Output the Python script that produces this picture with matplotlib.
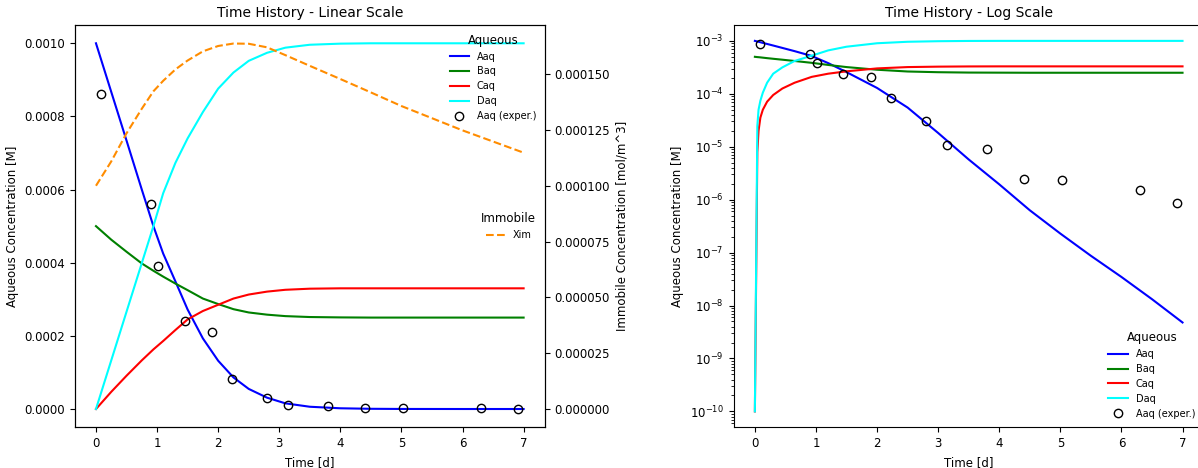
import matplotlib
matplotlib.use("Agg")
import matplotlib.pyplot as plt
from matplotlib.ticker import FormatStrFormatter, MultipleLocator, LogLocator, NullFormatter
import numpy as np

plt.rcParams['font.family'] = ['DejaVu Sans']

# ---------------- Linear-scale panel data ----------------
t_lin = [0, 0.25, 0.5, 0.75, 0.94, 1.1, 1.3, 1.5, 1.75, 2.0, 2.25, 2.5, 2.8, 3.1,
         3.5, 4.0, 4.5, 5.0, 6.0, 7.0]
aaq_lin = [1.0e-3, 8.67e-4, 7.34e-4, 6.0e-4, 5.0e-4, 4.25e-4, 3.49e-4, 2.72e-4, 1.93e-4,
           1.32e-4, 8.64e-5, 5.5e-5, 3.1e-5, 1.55e-5, 6.2e-6, 2.0e-6, 6.0e-7, 1.7e-7,
           1.5e-8, 4.5e-9]
baq_lin = [5.0e-4, 4.63e-4, 4.30e-4, 3.98e-4, 3.78e-4, 3.62e-4, 3.43e-4, 3.25e-4, 3.02e-4,
           2.87e-4, 2.73e-4, 2.64e-4, 2.58e-4, 2.54e-4, 2.515e-4, 2.505e-4, 2.5e-4, 2.5e-4,
           2.5e-4, 2.5e-4]
caq_lin = [0.0, 4.7e-5, 9.1e-5, 1.33e-4, 1.63e-4, 1.86e-4, 2.16e-4, 2.45e-4, 2.68e-4,
           2.85e-4, 3.02e-4, 3.13e-4, 3.21e-4, 3.26e-4, 3.29e-4, 3.30e-4, 3.30e-4, 3.30e-4,
           3.30e-4, 3.30e-4]
daq_lin = [0.0, 1.33e-4, 2.66e-4, 3.99e-4, 5.0e-4, 5.9e-4, 6.73e-4, 7.4e-4, 8.12e-4,
           8.76e-4, 9.2e-4, 9.52e-4, 9.74e-4, 9.88e-4, 9.96e-4, 9.99e-4, 1.0e-3, 1.0e-3,
           1.0e-3, 1.0e-3]
xim_lin = [1.0e-4, 1.109e-4, 1.235e-4, 1.345e-4, 1.423e-4, 1.470e-4, 1.521e-4, 1.561e-4,
           1.602e-4, 1.626e-4, 1.637e-4, 1.636e-4, 1.620e-4, 1.585e-4, 1.537e-4, 1.478e-4,
           1.418e-4, 1.357e-4, 1.248e-4, 1.148e-4]

# ---------------- Log-scale panel data ----------------
t_log = [0, 0.04, 0.06, 0.09, 0.13, 0.2, 0.3, 0.45, 0.65, 0.93, 1.2, 1.5, 2.0, 2.5,
         3.0, 3.5, 4.0, 4.5, 5.0, 5.5, 6.0, 6.5, 7.0]
aaq_log = [1.0e-3, 9.73e-4, 9.62e-4, 9.42e-4, 9.16e-4, 8.75e-4, 8.17e-4, 7.36e-4, 6.40e-4,
           5.19e-4, 3.80e-4, 2.57e-4, 1.29e-4, 5.50e-5, 1.82e-5, 5.75e-6, 1.95e-6, 6.31e-7,
           2.29e-7, 8.71e-8, 3.47e-8, 1.32e-8, 4.79e-9]
baq_log = [5.0e-4, 4.94e-4, 4.92e-4, 4.88e-4, 4.82e-4, 4.72e-4, 4.59e-4, 4.41e-4, 4.17e-4,
           3.85e-4, 3.51e-4, 3.20e-4, 2.85e-4, 2.64e-4, 2.56e-4, 2.52e-4, 2.51e-4, 2.5e-4,
           2.5e-4, 2.5e-4, 2.5e-4, 2.5e-4, 2.5e-4]
caq_log = [1.0e-10, 7.9e-6, 2.0e-5, 3.55e-5, 5.0e-5, 7.1e-5, 9.5e-5, 1.26e-4, 1.62e-4,
           2.09e-4, 2.40e-4, 2.66e-4, 3.02e-4, 3.20e-4, 3.26e-4, 3.29e-4, 3.30e-4, 3.30e-4,
           3.30e-4, 3.30e-4, 3.30e-4, 3.30e-4, 3.30e-4]
daq_log = [1.0e-10, 2.45e-5, 5.01e-5, 7.41e-5, 1.05e-4, 1.62e-4, 2.40e-4, 3.16e-4, 4.17e-4,
           5.25e-4, 6.61e-4, 7.76e-4, 9.02e-4, 9.62e-4, 9.86e-4, 9.97e-4, 1.0e-3, 1.0e-3,
           1.0e-3, 1.0e-3, 1.0e-3, 1.0e-3, 1.0e-3]

# ---------------- Experimental data ----------------
t_exp = [0.09, 0.9, 1.01, 1.45, 1.9, 2.23, 2.8, 3.14, 3.8, 4.41, 5.03, 6.31, 6.91]
aaq_exp = [8.6e-4, 5.6e-4, 3.9e-4, 2.4e-4, 2.1e-4, 8.3e-5, 3.1e-5, 1.1e-5, 8.9e-6,
           2.45e-6, 2.35e-6, 1.55e-6, 8.7e-7]

W, H = 1198, 468
fig = plt.figure(figsize=(W / 100, H / 100), dpi=100)

TICK_FS = 8.5
LABEL_FS = 8.5
TITLE_FS = 10
LEG_FS = 7
LEG_TITLE_FS = 8.5

ax1 = fig.add_axes([74.6 / W, (H - 427.3) / H, 470.4 / W, 402.3 / H])
ax2 = ax1.twinx()
ax3 = fig.add_axes([733.5 / W, (H - 427.3) / H, 470.4 / W, 402.3 / H])

lw = 1.5
ax1.plot(t_lin, aaq_lin, color='blue', lw=lw, label='Aaq')
ax1.plot(t_lin, baq_lin, color='green', lw=lw, label='Baq')
ax1.plot(t_lin, caq_lin, color='red', lw=lw, label='Caq')
ax1.plot(t_lin, daq_lin, color='cyan', lw=lw, label='Daq')
ax1.plot(t_exp, aaq_exp, 'o', mfc='none', mec='black', ms=6, mew=1.0, label='Aaq (exper.)')
ax2.plot(t_lin, xim_lin, color='darkorange', ls='--', lw=lw, label='Xim')

ax1.set_xlim(-0.35, 7.35)
ax1.set_ylim(-0.00005, 0.00105)
ax2.set_ylim(-8.2e-6, 1.72e-4)
ax1.yaxis.set_major_formatter(FormatStrFormatter('%.4f'))
ax2.yaxis.set_major_locator(MultipleLocator(0.000025))
ax2.yaxis.set_major_formatter(FormatStrFormatter('%.6f'))
ax1.set_xlabel('Time [d]', fontsize=LABEL_FS)
ax1.set_ylabel('Aqueous Concentration [M]', fontsize=LABEL_FS)
ax2.set_ylabel('Immobile Concentration [mol/m^3]', fontsize=LABEL_FS)
ax1.set_title('Time History - Linear Scale', fontsize=TITLE_FS)
for a in (ax1, ax2, ax3):
    a.tick_params(labelsize=TICK_FS)

leg1 = ax1.legend(loc='upper right', frameon=False, fontsize=LEG_FS, title='Aqueous',
                  title_fontsize=LEG_TITLE_FS)
ax2.legend(loc='center right', frameon=False, fontsize=LEG_FS, title='Immobile',
           title_fontsize=LEG_TITLE_FS)

ax3.plot(t_log, aaq_log, color='blue', lw=lw, label='Aaq')
ax3.plot(t_log, baq_log, color='green', lw=lw, label='Baq')
ax3.plot(t_log, caq_log, color='red', lw=lw, label='Caq')
ax3.plot(t_log, daq_log, color='cyan', lw=lw, label='Daq')
ax3.plot(t_exp, aaq_exp, 'o', mfc='none', mec='black', ms=6, mew=1.0, label='Aaq (exper.)')
ax3.set_yscale('log')
ax3.set_xlim(-0.35, 7.35)
ax3.set_ylim(10 ** -10.3, 10 ** -2.7)
ax3.yaxis.set_major_locator(LogLocator(base=10, numticks=20))
ax3.yaxis.set_minor_locator(LogLocator(base=10, subs=np.arange(2, 10), numticks=20))
ax3.yaxis.set_minor_formatter(NullFormatter())
ax3.set_xlabel('Time [d]', fontsize=LABEL_FS)
ax3.set_ylabel('Aqueous Concentration [M]', fontsize=LABEL_FS)
ax3.set_title('Time History - Log Scale', fontsize=TITLE_FS)
ax3.legend(loc='lower right', frameon=False, fontsize=LEG_FS, title='Aqueous',
           title_fontsize=LEG_TITLE_FS)

fig.savefig('out.png', dpi=100)
